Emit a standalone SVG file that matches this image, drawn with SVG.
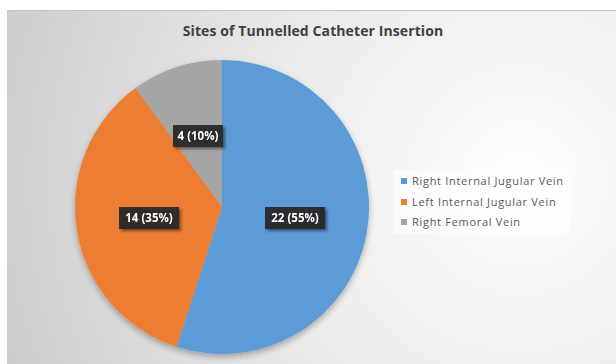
<svg xmlns="http://www.w3.org/2000/svg" width="616" height="364" viewBox="0 0 616 364">
  <defs>
    <radialGradient id="bg" cx="520" cy="180" r="560" gradientUnits="userSpaceOnUse">
      <stop offset="0" stop-color="#ffffff"/>
      <stop offset="0.45" stop-color="#ebebeb"/>
      <stop offset="1" stop-color="#cbcbcb"/>
    </radialGradient>
    <filter id="shadow" x="-20%" y="-20%" width="150%" height="160%">
      <feGaussianBlur in="SourceAlpha" stdDeviation="1.5"/>
      <feOffset dx="2" dy="2" result="b"/>
      <feComponentTransfer><feFuncA type="linear" slope="0.5"/></feComponentTransfer>
      <feMerge><feMergeNode/><feMergeNode in="SourceGraphic"/></feMerge>
    </filter>
    <filter id="pieShadow" x="-10%" y="-10%" width="120%" height="125%">
      <feGaussianBlur in="SourceAlpha" stdDeviation="3"/>
      <feOffset dx="0" dy="3" result="b"/>
      <feComponentTransfer><feFuncA type="linear" slope="0.3"/></feComponentTransfer>
      <feMerge><feMergeNode/><feMergeNode in="SourceGraphic"/></feMerge>
    </filter>
  </defs>
  <style>
    .title { font-family: "Open Sans", "Liberation Sans", sans-serif; font-weight: bold; font-size: 14px; letter-spacing: 0.1px; fill: #404040; }
    .lbl { font-family: "Open Sans", "Liberation Sans", sans-serif; font-weight: bold; font-size: 11.5px; fill: #ffffff; }
    .lbox { fill: #262626; opacity: 0.92; }
    .leg { font-family: "Open Sans", "Liberation Sans", sans-serif; font-size: 11px; letter-spacing: 0.7px; fill: #595959; }
  </style>
  <rect x="0" y="0" width="616" height="364" fill="#ffffff"/>
  <rect x="7" y="10" width="609" height="354" fill="url(#bg)"/>
  <line x1="7" y1="10.5" x2="616" y2="10.5" stroke="#c4c4c4" stroke-width="1"/>

  <text class="title" x="313" y="36" text-anchor="middle">Sites of Tunnelled Catheter Insertion</text>

  <g id="pie" filter="url(#pieShadow)">
    <g id="slice-right-ijv">
      <path d="M222,207 L222,60 A147,147 0 1 1 176.6,346.8 Z" fill="#5B9BD5"/>
    </g>
    <g id="slice-left-ijv">
      <path d="M222,207 L176.6,346.8 A147,147 0 0 1 135.6,88.1 Z" fill="#ED7D31"/>
    </g>
    <g id="slice-right-fv">
      <path d="M222,207 L135.6,88.1 A147,147 0 0 1 222,60 Z" fill="#A5A5A5"/>
    </g>
  </g>

  <g id="label-fv" filter="url(#shadow)">
    <rect class="lbox" x="173" y="125" width="50" height="22"/>
    <text class="lbl" x="198" y="140" text-anchor="middle">4 (10%)</text>
  </g>
  <g id="label-lijv" filter="url(#shadow)">
    <rect class="lbox" x="119" y="207" width="60" height="22"/>
    <text class="lbl" x="149" y="222" text-anchor="middle">14 (35%)</text>
  </g>
  <g id="label-rijv" filter="url(#shadow)">
    <rect class="lbox" x="265" y="207" width="60" height="22"/>
    <text class="lbl" x="295" y="222" text-anchor="middle">22 (55%)</text>
  </g>

  <g id="legend">
    <rect x="393" y="170" width="177" height="64" fill="#ffffff" opacity="0.55"/>
    <rect x="401" y="178" width="6" height="6" fill="#5B9BD5"/>
    <text class="leg" x="412" y="185">Right Internal Jugular Vein</text>
    <rect x="401" y="199" width="6" height="6" fill="#ED7D31"/>
    <text class="leg" x="412" y="206">Left  Internal Jugular Vein</text>
    <rect x="401" y="219" width="6" height="6" fill="#A5A5A5"/>
    <text class="leg" x="412" y="226">Right Femoral Vein</text>
  </g>
</svg>
